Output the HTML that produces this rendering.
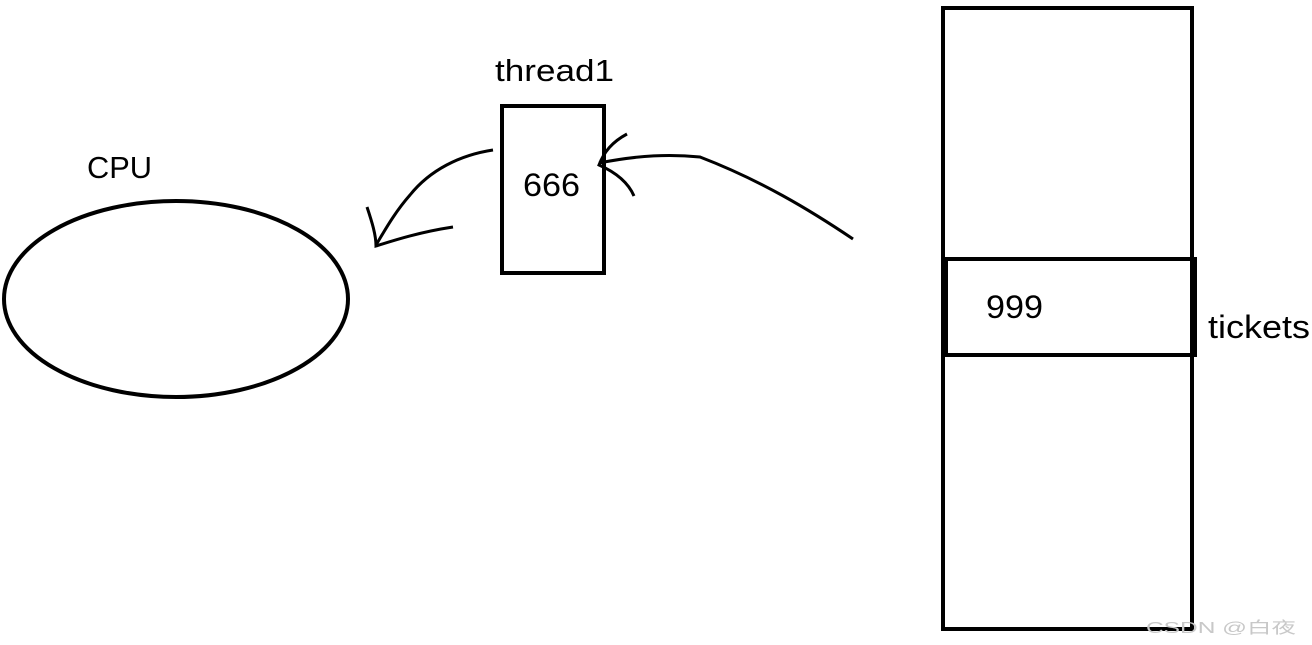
<!DOCTYPE html>
<html><head><meta charset="utf-8"><style>
html,body{margin:0;padding:0;background:#fff;width:1312px;height:645px;overflow:hidden}
svg{display:block}
text{font-family:"Liberation Sans","Noto Sans CJK SC",sans-serif;fill:#000}
</style></head><body>
<svg width="1312" height="645" viewBox="0 0 1312 645">
<ellipse cx="176" cy="299" rx="172" ry="98" fill="none" stroke="#000" stroke-width="4"/>
<text x="87" y="178" font-size="31" textLength="65" lengthAdjust="spacingAndGlyphs">CPU</text>
<rect x="502" y="106" width="102" height="167" fill="none" stroke="#000" stroke-width="4"/>
<text x="495" y="81" font-size="31" textLength="119" lengthAdjust="spacingAndGlyphs">thread1</text>
<text x="523" y="196" font-size="32" textLength="57" lengthAdjust="spacingAndGlyphs">666</text>
<path d="M493 150 C460 155 430 170 410 195 C395 212 385 230 376 245" fill="none" stroke="#000" stroke-width="3"/>
<path d="M367 207 C372 222 376 235 376 246 C395 240 420 232 453 227" fill="none" stroke="#000" stroke-width="3"/>
<path d="M853 239 C810 210 760 180 700 157 C670 154 640 155 599 163" fill="none" stroke="#000" stroke-width="3"/>
<path d="M627 134 C612 142 604 152 599 165 C615 172 628 182 634 196" fill="none" stroke="#000" stroke-width="3"/>
<rect x="943" y="8" width="249" height="621" fill="none" stroke="#000" stroke-width="4"/>
<rect x="946" y="259" width="249" height="96" fill="none" stroke="#000" stroke-width="4"/>
<text x="986" y="318" font-size="32" textLength="57" lengthAdjust="spacingAndGlyphs">999</text>
<text x="1208" y="338" font-size="32" textLength="102" lengthAdjust="spacingAndGlyphs">tickets</text>
<text x="1146" y="633" font-size="16" style="fill:#c8c8c8" textLength="150" lengthAdjust="spacingAndGlyphs">CSDN @白夜</text>
</svg>
</body></html>
